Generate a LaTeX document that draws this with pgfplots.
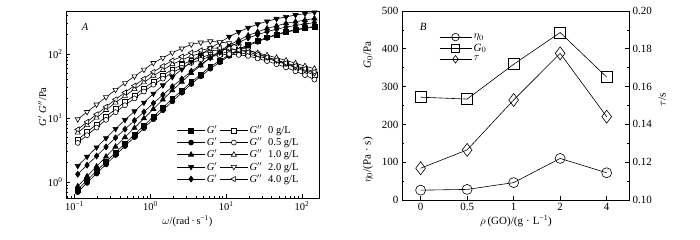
\documentclass[border=0pt]{standalone}
\usepackage{fontspec}
\setmainfont{Liberation Serif}
\usepackage{pgfplots}
\pgfplotsset{compat=1.18}
\usepackage{pgfplotstable}

\pgfplotstableread{
w Gp0 Gpp0 Gp05 Gpp05 Gp1 Gpp1 Gp2 Gpp2 Gp4 Gpp4
0.110 0.759 4.57 0.692 4.07 0.851 5.89 1.78 9.55 1.32 6.61
0.146 1.06 6.03 0.966 5.37 1.22 7.72 2.48 12.4 1.83 8.66
0.195 1.48 7.94 1.35 7.08 1.74 10.1 3.47 16.2 2.54 11.4
0.260 2.07 10.5 1.88 9.33 2.48 13.3 4.84 21.1 3.53 14.9
0.347 2.88 13.8 2.63 12.3 3.55 17.4 6.76 27.5 4.90 19.5
0.462 3.98 17.7 3.63 15.8 4.98 22.1 9.33 35.1 6.68 25.0
0.617 5.50 22.6 5.01 20.2 7.00 28.2 12.7 44.7 9.12 32.0
0.822 7.59 29.0 6.92 25.9 9.83 35.9 17.4 56.9 12.4 41.0
1.096 10.5 37.2 9.55 33.1 13.8 45.7 24.0 72.4 17.0 52.5
1.462 14.5 46.2 13.2 41.2 19.3 56.2 32.4 87.1 22.9 64.6
1.950 20.0 57.5 18.2 51.3 26.9 69.2 43.7 105 30.9 79.4
2.600 26.9 67.6 24.8 61.0 36.7 80.4 57.5 122 40.7 91.2
3.467 36.3 79.4 33.9 72.4 50.1 93.3 75.9 141 53.7 105
4.624 47.9 88.1 44.7 81.3 66.1 102 97.7 151 68.4 114
6.166 63.1 97.7 58.9 91.2 87.1 112 123 158 87.1 123
8.222 78.5 102 74.1 95.5 110 116 151 153 106 124
10.96 97.7 107 93.3 100 138 120 186 148 129 123
14.62 117 104 112 96.6 164 116 221 132 151 115
19.50 141 100 135 93.3 195 112 257 117 178 107
26.00 160 92.3 155 85.1 221 104 292 102 200 97.7
34.67 182 85.1 178 77.6 251 95.5 324 89.1 224 89.1
46.24 202 76.7 197 69.2 275 87.1 355 79.4 243 80.4
61.66 224 69.2 219 61.7 302 79.4 380 70.8 263 72.4
82.22 240 61.0 234 53.7 320 71.6 407 63.1 279 65.3
109.6 257 53.7 251 46.8 339 64.6 427 56.2 295 58.9
146.2 269 46.8 263 39.8 359 58.9 447 50.1 309 52.5
}\dataA

\pgfplotstableread{
x eta G0 tau
0 26 272 0.1168
1 28 267 0.1265
2 46 359 0.1529
3 110 443 0.1776
4 72 325 0.1441
}\dataB

\newcommand{\fA}{\fontsize{10.5}{12.5}\selectfont}
\newcommand{\fB}{\fontsize{11}{13}\selectfont}

\pgfplotsset{
  aline/.style={black, line width=0.6pt},
}

\begin{document}
\begin{tikzpicture}
\path[use as bounding box] (0pt,0pt) rectangle (700pt,240pt);

% ---------------- Panel A ----------------
\begin{axis}[
  at={(66pt,42pt)}, anchor=south west, scale only axis,
  width=253pt, height=187pt,
  font=\fA, tick label style={font=\fA},
  xmode=log, ymode=log,
  xmin=0.077, xmax=168, ymin=0.56, ymax=470,
  axis line style={line width=0.8pt},
  xtick={0.1,1,10,100},
  xticklabels={10\textsuperscript{−1},10\textsuperscript{0},10\textsuperscript{1},10\textsuperscript{2}},
  ytick={1,10,100},
  yticklabels={10\textsuperscript{0},10\textsuperscript{1},10\textsuperscript{2}},
  minor xtick={0.08,0.09,0.2,0.3,0.4,0.5,0.6,0.7,0.8,0.9,2,3,4,5,6,7,8,9,20,30,40,50,60,70,80,90},
  minor ytick={0.6,0.7,0.8,0.9,2,3,4,5,6,7,8,9,20,30,40,50,60,70,80,90,200,300,400},
  tick align=inside, xtick pos=bottom, ytick pos=left,
  major tick length=4pt, minor tick length=2pt,
  tick style={black, line width=0.6pt},
  xlabel={$\omega$/(rad\,·\,s\textsuperscript{−1})},
  xlabel style={at={(rel axis cs:0.48,-0.123)}, anchor=center},
  ylabel={\textit{G}$'$ \textit{G}$''$/Pa},
  ylabel style={at={(rel axis cs:-0.094,0.487)}, anchor=center},
  legend columns=2,
  legend image code/.code={\draw[mark repeat=2,mark phase=2,#1] plot coordinates {(0pt,0pt) (14pt,0pt) (28pt,0pt)};},
  legend style={draw=none, fill=none, inner sep=0pt, at={(rel axis cs:0.437,0.395)}, anchor=north west,
    font=\fA, row sep=0pt, nodes={inner sep=1.4pt},
    /tikz/every even column/.append style={column sep=1pt}},
  legend cell align=left,
]
\addplot[aline, mark=square*, mark size=2.4pt, mark options={solid, fill=black}] table[x=w,y=Gp0]{\dataA};
\addlegendentry{\textit{G}$'$}
\addplot[aline, mark=square*, mark size=2.4pt, mark options={solid, fill=white}] table[x=w,y=Gpp0]{\dataA};
\addlegendentry{\textit{G}$''$\hspace{6pt}0 g/L}
\addplot[aline, mark=*, mark size=2.5pt, mark options={solid, fill=black}] table[x=w,y=Gp05]{\dataA};
\addlegendentry{\textit{G}$'$}
\addplot[aline, mark=*, mark size=2.5pt, mark options={solid, fill=white}] table[x=w,y=Gpp05]{\dataA};
\addlegendentry{\textit{G}$''$\hspace{6pt}0.5 g/L}
\addplot[aline, mark=triangle*, mark size=3pt, mark options={solid, fill=black}] table[x=w,y=Gp1]{\dataA};
\addlegendentry{\textit{G}$'$}
\addplot[aline, mark=triangle*, mark size=3pt, mark options={solid, fill=white}] table[x=w,y=Gpp1]{\dataA};
\addlegendentry{\textit{G}$''$\hspace{6pt}1.0 g/L}
\addplot[aline, mark=triangle*, mark size=3pt, mark options={solid, fill=black, rotate=180}] table[x=w,y=Gp2]{\dataA};
\addlegendentry{\textit{G}$'$}
\addplot[aline, mark=triangle*, mark size=3pt, mark options={solid, fill=white, rotate=180}] table[x=w,y=Gpp2]{\dataA};
\addlegendentry{\textit{G}$''$\hspace{6pt}2.0 g/L}
\addplot[aline, mark=diamond*, mark size=3pt, mark options={solid, fill=black}] table[x=w,y=Gp4]{\dataA};
\addlegendentry{\textit{G}$'$}
\addplot[aline, mark=triangle*, mark size=3pt, mark options={solid, fill=white, rotate=90}] table[x=w,y=Gpp4]{\dataA};
\addlegendentry{\textit{G}$''$\hspace{6pt}4.0 g/L}
\node[font=\fA\itshape] at (rel axis cs:0.075,0.914) {A};
\end{axis}

% ---------------- Panel B ----------------
\begin{axis}[
  at={(402pt,40pt)}, anchor=south west, scale only axis,
  width=227pt, height=189pt,
  font=\fB, tick label style={font=\fB},
  xmin=-0.4, xmax=4.48, ymin=0, ymax=500,
  axis line style={line width=0.8pt},
  xtick={0,1,2,3,4}, xticklabels={0,0.5,1,2,4},
  ytick={0,100,200,300,400,500}, minor y tick num=1,
  /pgf/number format/assume math mode=true,
  tick align=inside, xtick pos=bottom, ytick pos=left,
  major tick length=4pt, minor tick length=2pt,
  tick style={black, line width=0.6pt},
  xlabel={$\rho$\,(GO)/(g\;·\;L\textsuperscript{−1})},
  xlabel style={at={(rel axis cs:0.502,-0.113)}, anchor=center},
  legend image code/.code={\draw[mark repeat=2,mark phase=2,#1] plot coordinates {(0pt,0pt) (16pt,0pt) (32pt,0pt)};},
  legend style={draw=none, fill=none, inner sep=0pt, at={(rel axis cs:0.163,0.889)}, anchor=north west,
    font=\fB, row sep=0pt, nodes={inner sep=1.8pt}},
  legend image post style={mark size=3.8pt},
  legend cell align=left,
]
\addplot[aline, mark=o, mark size=5pt, mark options={solid}] table[x=x,y=eta]{\dataB};
\addlegendentry{$\eta_0$}
\addplot[aline, mark=square, mark size=5.5pt, mark options={solid}] table[x=x,y=G0]{\dataB};
\addlegendentry{\textit{G}$_0$}
\addlegendimage{aline, mark=diamond, mark size=6.5pt, mark options={solid}}
\addlegendentry{$\tau$}
\node[font=\fB\itshape] at (rel axis cs:0.093,0.915) {B};
\end{axis}
\begin{axis}[
  at={(402pt,40pt)}, anchor=south west, scale only axis,
  width=227pt, height=189pt,
  font=\fB, tick label style={font=\fB},
  xmin=-0.4, xmax=4.48, ymin=0.10, ymax=0.20,
  axis x line=none, axis y line*=right,
  axis line style={line width=0.8pt},
  ytick={0.10,0.12,0.14,0.16,0.18,0.20}, minor y tick num=1,
  yticklabel style={/pgf/number format/.cd, fixed, fixed zerofill, precision=2, assume math mode=true},
  tick align=inside,
  major tick length=4pt, minor tick length=2pt,
  tick style={black, line width=0.6pt},
]
\addplot[aline, mark=diamond, mark size=6.5pt, mark options={solid}] table[x=x,y=tau]{\dataB};
\end{axis}
\node[rotate=90, font=\fB] at (368pt,185pt) {\textit{G}$_0$/Pa};
\node[rotate=90, font=\fB] at (368pt,80pt) {$\eta_0$/(Pa\;·\;s)};
\node[rotate=90, font=\fB] at (662pt,140pt) {$\tau$/s};
\end{tikzpicture}
\end{document}
